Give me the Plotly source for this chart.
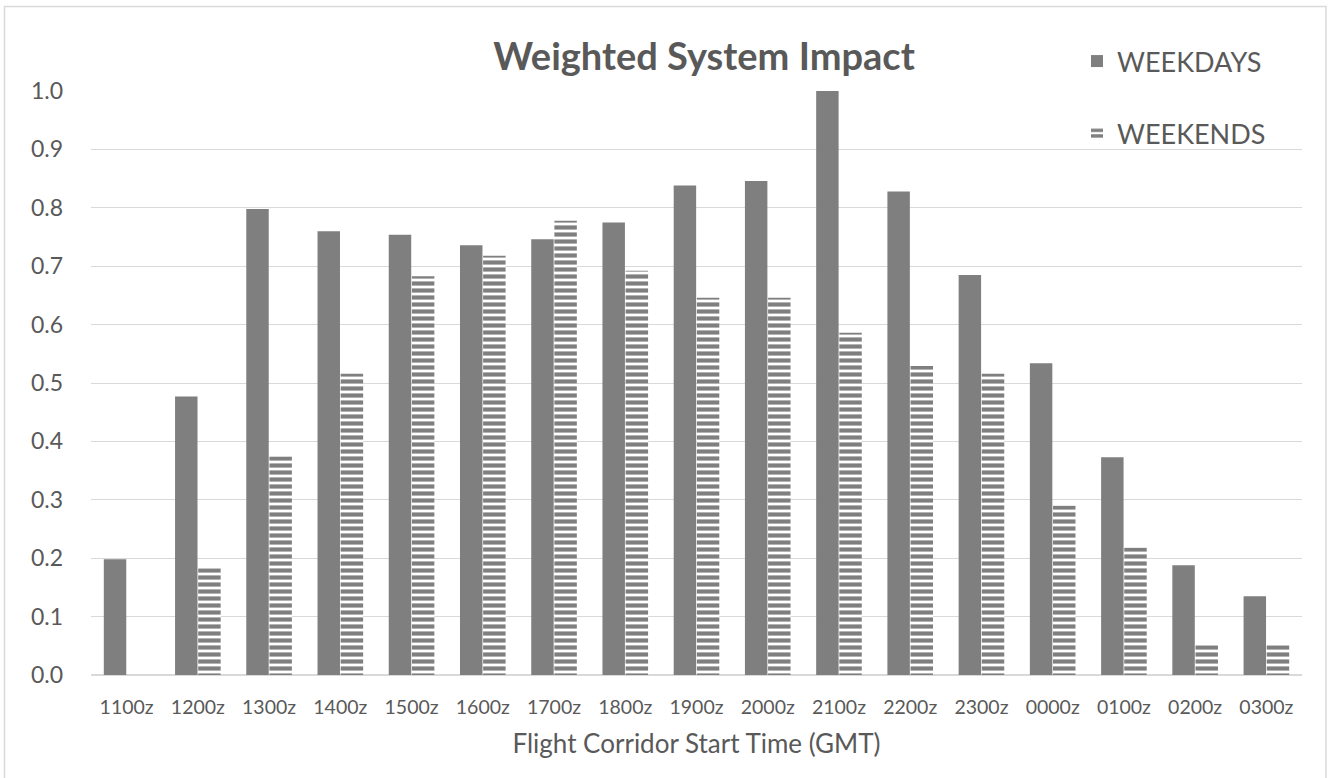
import plotly.graph_objects as go

# Flight corridor start times (GMT)
categories = ["1100z", "1200z", "1300z", "1400z", "1500z", "1600z", "1700z", "1800z", "1900z",
              "2000z", "2100z", "2200z", "2300z", "0000z", "0100z", "0200z", "0300z"]

# Weighted system impact, normalised to the peak corridor
weekdays = [0.198, 0.477, 0.798, 0.760, 0.754, 0.736, 0.746, 0.775, 0.838,
            0.846, 1.000, 0.828, 0.685, 0.534, 0.373, 0.188, 0.135]
weekends = [0.0, 0.183, 0.374, 0.516, 0.683, 0.718, 0.778, 0.692, 0.646,
            0.646, 0.586, 0.529, 0.516, 0.290, 0.218, 0.051, 0.051]

y_ticks = [0.0, 0.1, 0.2, 0.3, 0.4, 0.5, 0.6, 0.7, 0.8, 0.9, 1.0]

FONT = "Lato"
TEXT = "#595959"
BAR = "#7f7f7f"
GRID = "#d9d9d9"

fig = go.Figure()
fig.add_trace(go.Bar(
    x=categories, y=weekdays, name="WEEKDAYS", legendgroup="a",
    marker=dict(color=BAR, line=dict(width=0)),
))
fig.add_trace(go.Bar(
    x=categories, y=weekends, name="WEEKENDS", legendgroup="b",
    marker=dict(
        color="white",
        line=dict(width=0),
        pattern=dict(shape="-", fgcolor=BAR, bgcolor="white", size=7, solidity=0.6,
                     fillmode="replace"),
    ),
))

L, R, T, B = 91, 26, 91, 103
W, H = 1328, 778
pw, ph = W - L - R, H - T - B


def px_x(px):
    return (px - L) / pw


def px_y(py):
    return (H - B - py) / ph


fig.update_layout(
    width=W, height=H,
    margin=dict(l=L, r=R, t=T, b=B),
    paper_bgcolor="white", plot_bgcolor="white",
    barmode="group", bargap=0.35, bargroupgap=0.03,
    font=dict(family=FONT, color=TEXT),
    title=dict(
        text="<b>Weighted System Impact</b>",
        font=dict(family=FONT, size=38, color=TEXT),
        x=704 / W, xanchor="center", xref="container",
        y=1 - 57 / H, yanchor="middle", yref="container",
    ),
    legend=dict(
        x=px_x(1077), xanchor="left",
        y=px_y(37), yanchor="top",
        font=dict(family=FONT, size=27, color=TEXT),
        bgcolor="rgba(0,0,0,0)",
        tracegroupgap=34,
        itemsizing="constant",
    ),
    xaxis=dict(
        showgrid=False, showline=False, ticks="",
        tickfont=dict(family=FONT, size=19.5, color=TEXT),
        ticklabelstandoff=18,
        title=dict(text="Flight Corridor Start Time (GMT)",
                   font=dict(family=FONT, size=26, color=TEXT), standoff=18),
    ),
    yaxis=dict(
        range=[0, 1.0], tickvals=y_ticks, tickformat=".1f",
        showgrid=True, gridcolor=GRID, gridwidth=1.2,
        zeroline=True, zerolinecolor=GRID, zerolinewidth=1.5,
        showline=False, ticks="",
        tickfont=dict(family=FONT, size=23, color=TEXT),
        ticklabelstandoff=27,
    ),
    shapes=[dict(
        type="rect", xref="paper", yref="paper",
        x0=px_x(4.5), x1=px_x(1326), y0=px_y(800), y1=px_y(6.5),
        line=dict(color=GRID, width=1.5), fillcolor="rgba(0,0,0,0)", layer="below",
    )],
)

fig.write_html("out.html")
